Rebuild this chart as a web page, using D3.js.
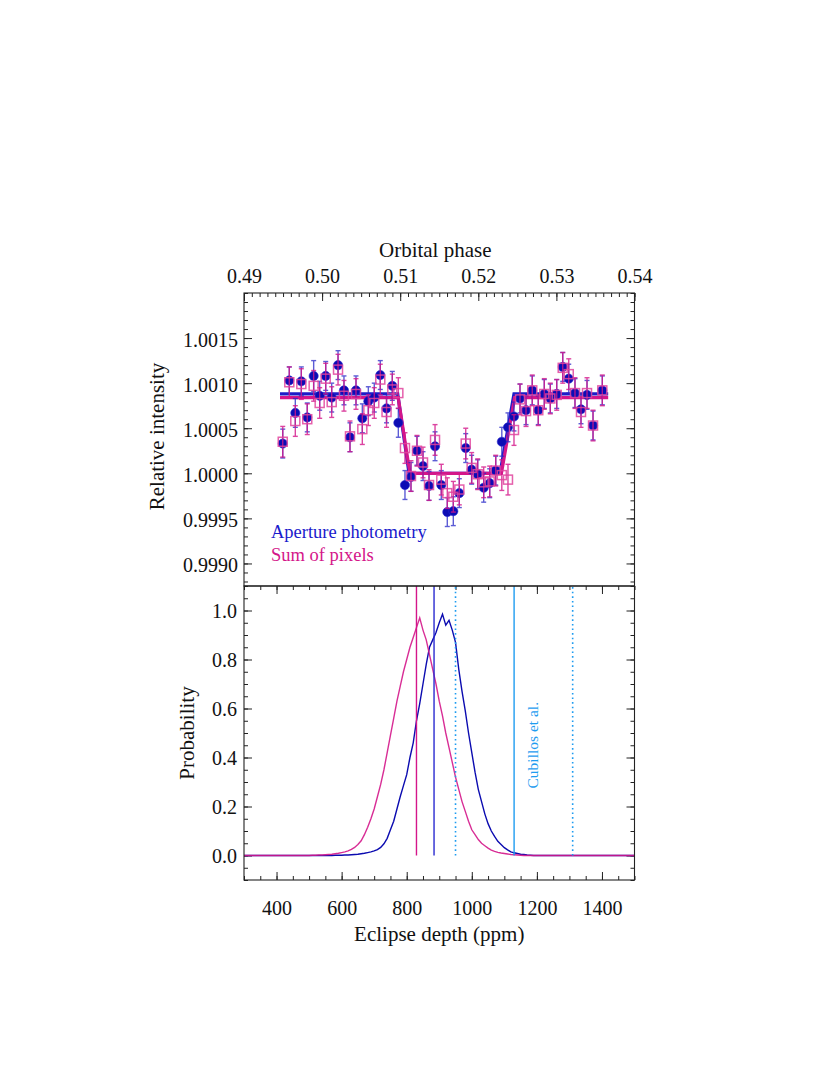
<!DOCTYPE html>
<html><head><meta charset="utf-8">
<script src="https://cdn.jsdelivr.net/npm/d3@7"></script>
<style>
html,body{margin:0;padding:0;background:#fff;}
svg{display:block;}
text{font-family:"Liberation Serif","Times New Roman",serif;}
</style></head>
<body>
<svg id="chart" width="830" height="1075"></svg>
<script>
// ---------------- DATA ----------------
// Top panel: orbital phase of each binned point
const phase = [0.49496,0.49580,0.49657,0.49734,0.49810,0.49892,0.49969,0.50046,0.50123,0.50204,
  0.50280,0.50357,0.50434,0.50515,0.50592,0.50668,0.50745,0.50825,0.50899,0.50976,
  0.51061,0.51138,0.51215,0.51292,0.51369,0.51446,0.51526,0.51603,0.51680,0.51757,
  0.51839,0.51915,0.51992,0.52069,0.52146,0.52223,0.52301,0.52380,0.52457,0.52534,
  0.52611,0.52691,0.52768,0.52845,0.52922,0.53004,0.53081,0.53158,0.53238,0.53315,
  0.53392,0.53469,0.53588];
// Aperture photometry (blue circles)
const apertureFlux = [1.00033,1.00103,1.00067,1.00102,1.00062,1.00108,1.00086,1.00108,1.00084,1.00120,
  1.00092,1.00040,1.00092,1.00061,1.00080,1.00084,1.00109,1.00072,1.00097,1.00056,
  0.99987,0.99996,1.00025,1.00008,0.99986,1.00030,0.99987,0.99957,0.99958,0.99978,
  1.00028,1.00004,0.99999,0.99984,0.99989,1.00003,1.00035,1.00051,1.00063,1.00083,
  1.00070,1.00092,1.00070,1.00088,1.00083,1.00088,1.00118,1.00105,1.00089,1.00071,
  1.00087,1.00053,1.00092];
const apertureErr = [0.00016,0.00015,0.00016,0.00016,0.00016,0.00017,0.00016,0.00016,0.00016,0.00016,
  0.00016,0.00016,0.00016,0.00016,0.00016,0.00016,0.00016,0.00016,0.00016,0.00016,
  0.00016,0.00016,0.00016,0.00016,0.00016,0.00016,0.00016,0.00016,0.00016,0.00016,
  0.00016,0.00016,0.00016,0.00016,0.00016,0.00016,0.00016,0.00016,0.00016,0.00016,
  0.00016,0.00016,0.00016,0.00016,0.00016,0.00016,0.00016,0.00016,0.00016,0.00016,
  0.00016,0.00016,0.00016];
// Sum of pixels (magenta squares)
const pixelFlux = [1.00035,1.00101,1.00058,1.00099,1.00060,1.00097,1.00078,1.00105,1.00079,1.00115,
  1.00086,1.00041,1.00088,1.00049,1.00070,1.00078,1.00104,1.00068,1.00093,1.00089,
  1.00028,0.99997,1.00025,1.00012,0.99987,1.00037,0.99993,0.99978,0.99974,0.99982,
  1.00033,1.00006,0.99999,0.99990,0.99991,1.00003,0.99998,0.99993,1.00048,1.00082,
  1.00069,1.00092,1.00070,1.00088,1.00083,1.00087,1.00117,1.00110,1.00089,1.00068,
  1.00089,1.00053,1.00092];
const pixelErr = [0.00017,0.00017,0.00017,0.00017,0.00017,0.00017,0.00017,0.00017,0.00017,0.00017,
  0.00017,0.00017,0.00017,0.00017,0.00017,0.00017,0.00017,0.00017,0.00017,0.00017,
  0.00017,0.00017,0.00017,0.00017,0.00017,0.00017,0.00017,0.00017,0.00017,0.00017,
  0.00017,0.00017,0.00017,0.00017,0.00017,0.00017,0.00017,0.00017,0.00017,0.00017,
  0.00017,0.00017,0.00017,0.00017,0.00017,0.00017,0.00017,0.00017,0.00017,0.00017,
  0.00017,0.00017,0.00017];
// Eclipse models
const modelPhaseAperture = [0.49461,0.50968,0.51113,0.52278,0.52457,0.53663];
const modelAperture      = [1.00088,1.00088,1.00000,1.00000,1.00088,1.00088];
const modelPhasePixel    = [0.49461,0.50975,0.51125,0.52296,0.52465,0.53663];
const modelPixel         = [1.00084,1.00084,1.00000,1.00000,1.00084,1.00084];

// Bottom panel: posterior of eclipse depth (ppm)
const depthBins = [300,
  500,510,520,530,540,550,560,570,580,590,
  600,610,620,630,640,650,660,670,680,690,
  700,710,720,730,740,750,760,770,780,790,
  800,810,820,830,840,850,860,870,880,890,
  900,910,920,930,940,950,960,970,980,990,
  1000,1010,1020,1030,1040,1050,1060,1070,1080,1090,
  1100,1110,1120,1130,1140,1150,1160,1170,1180,1190,1200,
  1500];
const probAperture = [0,
  0,0,0,0,0,0,0,0,0.001,0.001,
  0.001,0.002,0.002,0.003,0.004,0.005,0.007,0.009,0.012,0.015,
  0.019,0.024,0.033,0.048,0.070,0.105,0.140,0.190,0.240,0.285,
  0.330,0.400,0.460,0.550,0.620,0.700,0.780,0.850,0.880,0.910,
  0.950,0.985,0.940,0.960,0.920,0.870,0.760,0.670,0.590,0.500,
  0.420,0.340,0.270,0.220,0.170,0.130,0.100,0.078,0.058,0.045,
  0.032,0.023,0.015,0.011,0.008,0.005,0.004,0.002,0.001,0,0,
  0];
const probPixel = [0,
  0,0.001,0.001,0.002,0.002,0.003,0.004,0.005,0.007,0.009,
  0.012,0.015,0.019,0.025,0.033,0.045,0.060,0.085,0.115,0.150,
  0.190,0.240,0.290,0.350,0.420,0.490,0.560,0.630,0.690,0.750,
  0.800,0.850,0.890,0.930,0.970,0.920,0.880,0.820,0.760,0.700,
  0.630,0.570,0.500,0.440,0.380,0.320,0.270,0.220,0.180,0.140,
  0.105,0.085,0.065,0.050,0.040,0.030,0.022,0.017,0.013,0.010,
  0.008,0.006,0.004,0.003,0.002,0.001,0,0,0,0,0,
  0];
const depthAperture = 884;
const depthPixel = 830;
const cubillosDepth = 1130;
const cubillosBounds = [950, 1310];

// Ticks
const phaseTicks = [0.49,0.50,0.51,0.52,0.53,0.54];
const phaseTickLabels = ["0.49","0.50","0.51","0.52","0.53","0.54"];
const intensityTicks = [0.9990,0.9995,1.0000,1.0005,1.0010,1.0015];
const intensityTickLabels = ["0.9990","0.9995","1.0000","1.0005","1.0010","1.0015"];
const depthTicks = [400,600,800,1000,1200,1400];
const depthTickLabels = ["400","600","800","1000","1200","1400"];
const probTicks = [0,0.2,0.4,0.6,0.8,1.0];
const probTickLabels = ["0.0","0.2","0.4","0.6","0.8","1.0"];

// ---------------- LAYOUT ----------------
const L = 244, R = 634.5, T1 = 293, B1 = 586, T2 = 586, B2 = 880;
const BLUE = "#0c0cb4", BLUE_LINE = "#1c1cc8", MAG = "#d4168a", CYAN = "#1e9cf0";
const svg = d3.select("#chart");

const xPhase = d3.scaleLinear().domain([0.49,0.54]).range([L,R]);
const yInt = d3.scaleLinear().domain([0.99875,1.0020]).range([B1,T1]);
const xDepth = d3.scaleLinear().domain([300,1500]).range([L,R]);
const yProb = d3.scaleLinear().domain([-0.1,1.1]).range([B2,T2]);

function styleAxis(g, size){
  g.select(".domain").remove();
  g.selectAll("line").attr("stroke","#222").attr("stroke-width",1);
  g.selectAll("text").attr("font-size",size||20).attr("fill","#111")
    .attr("font-family",'"Liberation Serif","Times New Roman",serif');
}
function r4(v){return Math.round(v*1e6)/1e6;}

// ---- Top panel axes ----
const minorPhase = d3.range(0,51).map(i=>r4(0.49+i*0.001));
const minorInt = d3.range(0,33).map(i=>r4(0.9988+i*0.0001));
svg.append("g").attr("transform",`translate(0,${T1})`)
  .call(d3.axisTop(xPhase).tickValues(minorPhase).tickSize(-4).tickFormat("")).call(styleAxis);
svg.append("g").attr("transform",`translate(0,${T1})`)
  .call(d3.axisTop(xPhase).tickValues(phaseTicks).tickSizeInner(-8).tickSizeOuter(0).tickPadding(10)
    .tickFormat((d,i)=>phaseTickLabels[i])).call(g=>styleAxis(g,20));
svg.append("g").attr("transform",`translate(${L},0)`)
  .call(d3.axisLeft(yInt).tickValues(minorInt).tickSize(-4).tickFormat("")).call(styleAxis);
svg.append("g").attr("transform",`translate(${L},0)`)
  .call(d3.axisLeft(yInt).tickValues(intensityTicks).tickSizeInner(-8).tickSizeOuter(0).tickPadding(6)
    .tickFormat((d,i)=>intensityTickLabels[i])).call(g=>{styleAxis(g,20); g.selectAll("text").attr("dy","0.42em");});
svg.append("g").attr("transform",`translate(${R},0)`)
  .call(d3.axisRight(yInt).tickValues(minorInt).tickSize(-4).tickFormat("")).call(styleAxis);
svg.append("g").attr("transform",`translate(${R},0)`)
  .call(d3.axisRight(yInt).tickValues(intensityTicks).tickSize(-8).tickFormat("")).call(styleAxis);

// ---- Top panel marks ----
const topG = svg.append("g");
const ptsA = phase.map((p,i)=>({x:p,y:apertureFlux[i],e:apertureErr[i]}));
const ptsP = phase.map((p,i)=>({x:p,y:pixelFlux[i],e:pixelErr[i]}));
const cap = 2.5;

function errBars(g, pts, color, op){
  const eg = g.append("g").attr("stroke",color).attr("stroke-width",1.4).attr("opacity",op);
  pts.forEach(d=>{
    const x = xPhase(d.x), y0 = yInt(d.y-d.e), y1 = yInt(d.y+d.e);
    eg.append("line").attr("x1",x).attr("x2",x).attr("y1",y0).attr("y2",y1);
    eg.append("line").attr("x1",x-cap).attr("x2",x+cap).attr("y1",y0).attr("y2",y0);
    eg.append("line").attr("x1",x-cap).attr("x2",x+cap).attr("y1",y1).attr("y2",y1);
  });
}
// model lines
const lineA = d3.line().x(d=>xPhase(d[0])).y(d=>yInt(d[1]));
topG.append("path").datum(modelPhaseAperture.map((p,i)=>[p,modelAperture[i]]))
  .attr("d",lineA).attr("fill","none").attr("stroke",BLUE_LINE).attr("stroke-width",3.2);
topG.append("path").datum(modelPhasePixel.map((p,i)=>[p,modelPixel[i]]))
  .attr("d",lineA).attr("fill","none").attr("stroke",MAG).attr("stroke-width",3.2);

errBars(topG, ptsA, "#2626c8", 0.75);
topG.append("g").selectAll("circle").data(ptsA).join("circle")
  .attr("cx",d=>xPhase(d.x)).attr("cy",d=>yInt(d.y)).attr("r",4.6)
  .attr("fill",BLUE).attr("stroke","#2a2ad0").attr("stroke-width",0.6);
errBars(topG, ptsP, MAG, 0.8);
topG.append("g").selectAll("rect").data(ptsP).join("rect")
  .attr("x",d=>xPhase(d.x)-4.5).attr("y",d=>yInt(d.y)-4.5).attr("width",9).attr("height",9)
  .attr("fill","none").attr("stroke","#e0449e").attr("stroke-width",1.5).attr("opacity",0.85);

// legend
svg.append("text").attr("x",271).attr("y",538).attr("font-size",18.5).attr("fill","#1a1acc").text("Aperture photometry");
svg.append("text").attr("x",271).attr("y",561).attr("font-size",18.5).attr("fill",MAG).text("Sum of pixels");

// ---- Bottom panel axes ----
const minorDepth = d3.range(300,1501,50);
const minorProb = d3.range(0,25).map(i=>r4(-0.1+i*0.05));
svg.append("g").attr("transform",`translate(0,${B2})`)
  .call(d3.axisBottom(xDepth).tickValues(minorDepth).tickSize(-4).tickFormat("")).call(styleAxis);
svg.append("g").attr("transform",`translate(0,${B2})`)
  .call(d3.axisBottom(xDepth).tickValues(depthTicks).tickSizeInner(-8).tickSizeOuter(0).tickPadding(21)
    .tickFormat((d,i)=>depthTickLabels[i])).call(g=>styleAxis(g,20));
svg.append("g").attr("transform",`translate(0,${T2})`)
  .call(d3.axisTop(xDepth).tickValues(minorDepth).tickSize(-4).tickFormat("")).call(styleAxis);
svg.append("g").attr("transform",`translate(0,${T2})`)
  .call(d3.axisTop(xDepth).tickValues(depthTicks).tickSize(-8).tickFormat("")).call(styleAxis);
svg.append("g").attr("transform",`translate(${L},0)`)
  .call(d3.axisLeft(yProb).tickValues(minorProb).tickSize(-4).tickFormat("")).call(styleAxis);
svg.append("g").attr("transform",`translate(${L},0)`)
  .call(d3.axisLeft(yProb).tickValues(probTicks).tickSizeInner(-8).tickSizeOuter(0).tickPadding(7)
    .tickFormat((d,i)=>probTickLabels[i])).call(g=>{styleAxis(g,20); g.selectAll("text").attr("dy","0.36em");});
svg.append("g").attr("transform",`translate(${R},0)`)
  .call(d3.axisRight(yProb).tickValues(minorProb).tickSize(-4).tickFormat("")).call(styleAxis);
svg.append("g").attr("transform",`translate(${R},0)`)
  .call(d3.axisRight(yProb).tickValues(probTicks).tickSize(-8).tickFormat("")).call(styleAxis);

// ---- Bottom panel marks ----
const botG = svg.append("g");
const hist = d3.line().x(d=>xDepth(d[0])).y(d=>yProb(d[1]));
botG.append("path").datum(depthBins.map((b,i)=>[b,probAperture[i]]))
  .attr("d",hist).attr("fill","none").attr("stroke","#0b0bb0").attr("stroke-width",1.4);
botG.append("path").datum(depthBins.map((b,i)=>[b,probPixel[i]]))
  .attr("d",hist).attr("fill","none").attr("stroke",MAG).attr("stroke-width",1.4).attr("opacity",0.9);

function vline(v, color, dash, w){
  botG.append("line").attr("x1",xDepth(v)).attr("x2",xDepth(v))
    .attr("y1",yProb(0)).attr("y2",yProb(1.1))
    .attr("stroke",color).attr("stroke-width",w||1.4)
    .attr("stroke-dasharray",dash||null);
}
vline(depthPixel, MAG, null, 1.4);
vline(depthAperture, "#2a2ad0", null, 1.4);
vline(cubillosDepth, CYAN, null, 1.4);
cubillosBounds.forEach(v=>vline(v, CYAN, "1.6,3", 1.6));

svg.append("text")
  .attr("transform",`translate(${xDepth(cubillosDepth)+24},${yProb(0.45)}) rotate(-90)`)
  .attr("text-anchor","middle").attr("font-size",15.5).attr("fill",CYAN).text("Cubillos et al.");

// ---- Frames ----
svg.append("rect").attr("x",L).attr("y",T1).attr("width",R-L).attr("height",B1-T1)
  .attr("fill","none").attr("stroke","#222").attr("stroke-width",1.1);
svg.append("rect").attr("x",L).attr("y",T2).attr("width",R-L).attr("height",B2-T2)
  .attr("fill","none").attr("stroke","#222").attr("stroke-width",1.1);

// ---- Axis titles ----
svg.append("text").attr("x",(L+R)/2-4).attr("y",257).attr("text-anchor","middle")
  .attr("font-size",21).attr("fill","#111").text("Orbital phase");
svg.append("text").attr("transform",`translate(164,${(T1+B1)/2-3}) rotate(-90)`).attr("text-anchor","middle")
  .attr("font-size",21).attr("fill","#111").text("Relative intensity");
svg.append("text").attr("transform",`translate(194,${yProb(0.5)}) rotate(-90)`).attr("text-anchor","middle")
  .attr("font-size",21).attr("fill","#111").text("Probability");
svg.append("text").attr("x",(L+R)/2).attr("y",941).attr("text-anchor","middle")
  .attr("font-size",21).attr("fill","#111").text("Eclipse depth (ppm)");
</script>
</body></html>
